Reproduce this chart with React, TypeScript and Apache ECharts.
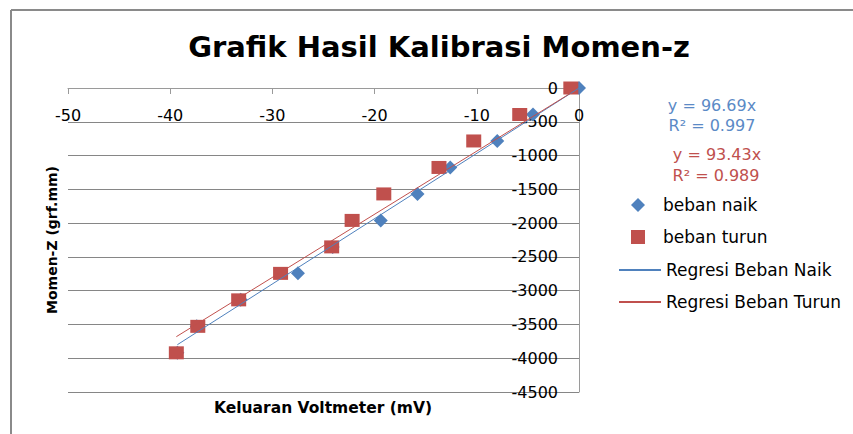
import React, { useEffect, useRef } from "react";
import * as echarts from "echarts";

// Momen-Z loads (grf.mm)
const momenZ = [0, -392, -784, -1176, -1568, -1960, -2352, -2744, -3136, -3528, -3920];
// Voltmeter output (mV)
const naikMV = [0, -4.5, -8.0, -12.6, -15.8, -19.4, -24.1, -27.5, -33.1, -37.4, -39.3];
const turunMV = [-0.8, -5.8, -10.3, -13.7, -19.1, -22.2, -24.2, -29.2, -33.3, -37.3, -39.4];
// regression slopes (y = a·x)
const slopes = [96.69, 93.43];
const r2 = [0.997, 0.989];
const seriesNames = ["beban naik", "beban turun", "Regresi Beban Naik", "Regresi Beban Turun"];

const BLUE = "#4F81BD";
const RED = "#C0504D";
const FONT = "DejaVu Sans";

function regLine(xs: number[], a: number) {
  const lo = Math.min(...xs);
  const hi = Math.max(...xs);
  return [
    [lo, a * lo],
    [hi, a * hi],
  ];
}

export default function App() {
  const ref = useRef<HTMLDivElement>(null);
  useEffect(() => {
    if (!ref.current) return;
    const chart = echarts.init(ref.current, null, { renderer: "svg" });
    const legendText = { fontFamily: FONT, fontSize: 17, color: "#000", lineHeight: 20 };
    chart.setOption({
      animation: false,
      backgroundColor: "#fff",
      grid: { left: 68, right: 274, top: 88, bottom: 42, containLabel: false },
      xAxis: {
        type: "value",
        position: "top",
        min: -50,
        max: 0,
        interval: 10,
        axisLine: { show: true, onZero: false, lineStyle: { color: "#9a9a9a", width: 1 } },
        axisTick: { show: true, inside: true, length: 6, lineStyle: { color: "#9a9a9a" } },
        axisLabel: { inside: true, margin: 19, color: "#000", fontFamily: FONT, fontSize: 16 },
        splitLine: { show: false },
      },
      yAxis: {
        type: "value",
        position: "right",
        min: -4500,
        max: 0,
        interval: 500,
        axisLine: { show: true, onZero: false, lineStyle: { color: "#9a9a9a", width: 1 } },
        axisTick: { show: false },
        axisLabel: {
          inside: true,
          margin: 21,
          color: "#000",
          fontFamily: FONT,
          fontSize: 16,
          formatter: (v: number) => String(v),
        },
        splitLine: { show: true, lineStyle: { color: "#868686", width: 1 } },
      },
      legend: [
        {
          orient: "vertical",
          left: 631,
          top: 195,
          padding: 0,
          itemWidth: 14,
          itemHeight: 14,
          itemGap: 12,
          textStyle: { ...legendText, padding: [0, 0, 0, 13] },
          data: [seriesNames[0], seriesNames[1]],
        },
        {
          orient: "vertical",
          left: 618,
          top: 260,
          padding: 0,
          itemWidth: 42,
          itemHeight: 14,
          itemGap: 12,
          textStyle: legendText,
          data: [
            { name: seriesNames[2], itemStyle: { opacity: 0 } },
            { name: seriesNames[3], itemStyle: { opacity: 0 } },
          ],
        },
      ],
      series: [
        {
          name: seriesNames[0],
          type: "scatter",
          symbol: "diamond",
          symbolSize: 14,
          itemStyle: { color: BLUE, opacity: 1 },
          data: naikMV.map((x, i) => [x, momenZ[i]]),
          z: 2,
        },
        {
          name: seriesNames[1],
          type: "scatter",
          symbol: "rect",
          symbolSize: [15, 13],
          itemStyle: { color: RED, opacity: 1 },
          data: turunMV.map((x, i) => [x, momenZ[i]]),
          z: 3,
        },
        {
          name: seriesNames[2],
          type: "line",
          symbol: "none",
          lineStyle: { color: BLUE, width: 1 },
          itemStyle: { color: BLUE },
          data: regLine(naikMV, slopes[0]),
          z: 4,
        },
        {
          name: seriesNames[3],
          type: "line",
          symbol: "none",
          lineStyle: { color: RED, width: 1 },
          itemStyle: { color: RED },
          data: regLine(turunMV, slopes[1]),
          z: 5,
        },
      ],
      graphic: [
        { type: "line", shape: { x1: 11, y1: 10, x2: 853, y2: 10 }, style: { stroke: "#8a8a8a", lineWidth: 2 } },
        { type: "line", shape: { x1: 11, y1: 10, x2: 11, y2: 434 }, style: { stroke: "#8a8a8a", lineWidth: 2 } },
        {
          type: "text",
          x: 439,
          y: 47,
          style: {
            text: "Grafik Hasil Kalibrasi Momen-z",
            fontFamily: FONT,
            fontWeight: "bold",
            fontSize: 29,
            fill: "#000",
            textAlign: "center",
            textVerticalAlign: "middle",
          },
        },
        {
          type: "text",
          x: 323,
          y: 408,
          style: {
            text: "Keluaran Voltmeter (mV)",
            fontFamily: FONT,
            fontWeight: "bold",
            fontSize: 15.5,
            fill: "#000",
            textAlign: "center",
            textVerticalAlign: "middle",
          },
        },
        {
          type: "text",
          x: 52,
          y: 240,
          rotation: Math.PI / 2,
          style: {
            text: "Momen-Z (grf.mm)",
            fontFamily: FONT,
            fontWeight: "bold",
            fontSize: 14,
            fill: "#000",
            textAlign: "center",
            textVerticalAlign: "middle",
          },
        },
        {
          type: "text",
          x: 712,
          y: 105,
          style: { text: `y = ${slopes[0]}x`, fontFamily: FONT, fontSize: 16, fill: "#5B8AC6", textAlign: "center", textVerticalAlign: "middle" },
        },
        {
          type: "text",
          x: 712,
          y: 125,
          style: { text: `R² = ${r2[0]}`, fontFamily: FONT, fontSize: 16, fill: "#5B8AC6", textAlign: "center", textVerticalAlign: "middle" },
        },
        {
          type: "text",
          x: 717,
          y: 154,
          style: { text: `y = ${slopes[1]}x`, fontFamily: FONT, fontSize: 16, fill: RED, textAlign: "center", textVerticalAlign: "middle" },
        },
        {
          type: "text",
          x: 716,
          y: 175,
          style: { text: `R² = ${r2[1]}`, fontFamily: FONT, fontSize: 16, fill: RED, textAlign: "center", textVerticalAlign: "middle" },
        },
      ],
    });
    return () => chart.dispose();
  }, []);
  return (
    <div
      ref={ref}
      style={{ position: "absolute", left: 0, top: 0, width: 853, height: 434, background: "#fff" }}
    />
  );
}
